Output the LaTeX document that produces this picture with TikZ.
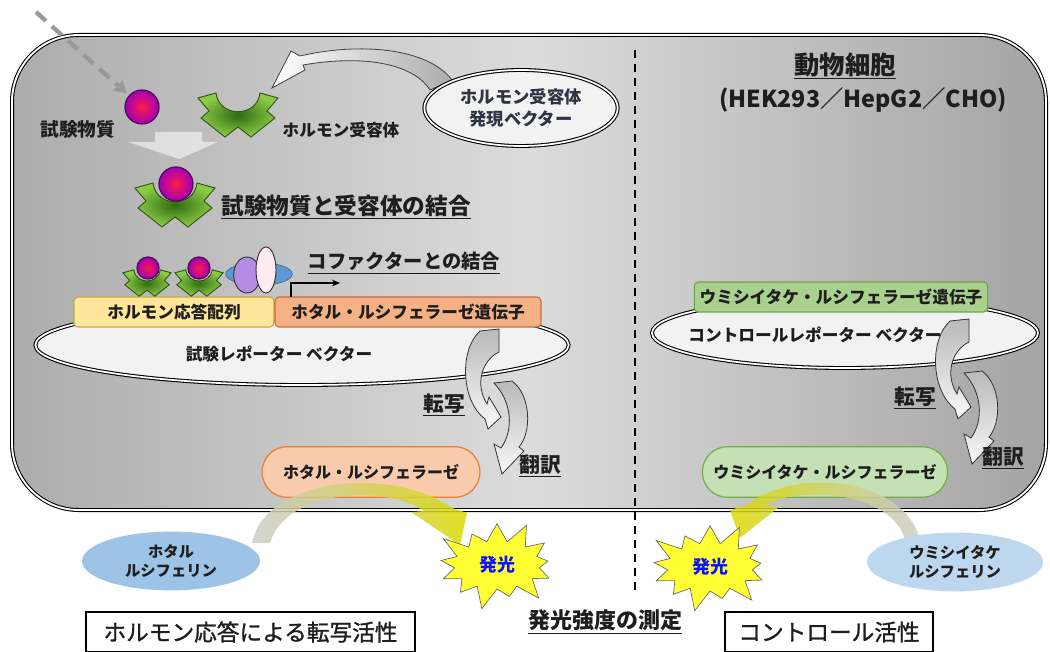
\documentclass[tikz,border=0pt]{standalone}
\usepackage{fontspec}
\setmainfont{Noto Sans CJK JP}
\newfontfamily\heavyjp{Noto Sans CJK JP}[FakeBold=1.2]
\usetikzlibrary{arrows.meta,shapes.geometric,shapes.symbols}

\definecolor{ink}{HTML}{1E1E1E}
\definecolor{navy}{HTML}{2F3444}
\definecolor{cellL}{HTML}{ACACAC}
\definecolor{cellM}{HTML}{DCDCDC}
\definecolor{cellR}{HTML}{A4A4A4}
\definecolor{vecbg}{HTML}{F2F2F2}
\definecolor{hreF}{HTML}{FFE699}
\definecolor{hreD}{HTML}{C9A640}
\definecolor{flucF}{HTML}{F4B183}
\definecolor{flucD}{HTML}{C8703A}
\definecolor{rlucF}{HTML}{A9D18E}
\definecolor{rlucD}{HTML}{6FA347}
\definecolor{fenzF}{HTML}{F8CBAD}
\definecolor{fenzD}{HTML}{ED7D31}
\definecolor{renzF}{HTML}{C5E0B4}
\definecolor{renzD}{HTML}{70AD47}
\definecolor{fsubF}{HTML}{9DC3E6}
\definecolor{rsubF}{HTML}{BDD7EE}
\definecolor{ligIn}{HTML}{FF1A4B}
\definecolor{ligOut}{HTML}{A000B4}
\definecolor{ligD}{HTML}{4A0A55}
\definecolor{recIn}{HTML}{2E6B12}
\definecolor{recOut}{HTML}{8CCB45}
\definecolor{recD}{HTML}{2F5617}
\definecolor{cofB}{HTML}{5B9BD5}
\definecolor{cofP}{HTML}{B48CE6}
\definecolor{cofW}{HTML}{FCEBF0}
\definecolor{glowY}{HTML}{D9D900}
\definecolor{flashY}{HTML}{FFFF33}
\definecolor{flashT}{HTML}{0A14FF}

\tikzset{
  lbl/.style={font=\bfseries\fontsize{12.5}{15}\selectfont,text=ink,inner sep=1pt},
  big/.style={font=\bfseries\fontsize{17}{20}\selectfont,text=ink,inner sep=1pt},
  proc/.style={font=\bfseries\fontsize{15.5}{18}\selectfont,text=ink,inner sep=1pt},
  cell/.style={rounded corners=50pt,left color=cellL,right color=cellR,middle color=cellM,
    draw=black,double=white,double distance=1.4pt,line width=0.8pt},
  vector/.style={ellipse,draw=black,double=white,double distance=1.3pt,line width=0.8pt,fill=vecbg},
  genebox/.style={rounded corners=3pt,minimum height=22.5pt,line width=0.8pt,
    font=\bfseries\fontsize{12.5}{15}\selectfont,text=ink},
  enzyme/.style={rounded corners=19pt,minimum height=38pt,line width=0.9pt,
    font=\bfseries\fontsize{12}{15}\selectfont,text=ink},
  substrate/.style={ellipse,align=center,font=\bfseries\fontsize{11.5}{14}\selectfont,text=ink},
  ligand/.style={circle,draw=ligD,line width=0.9pt,inner color=ligIn,outer color=ligOut,inner sep=0pt},
  flash/.style={starburst,starburst points=13,starburst point height=18pt,fill=flashY,
    draw=black!60,line width=0.5pt,minimum width=100pt,minimum height=72pt,inner sep=0pt,
    font=\bfseries\fontsize{13.5}{15}\selectfont,text=flashT},
  result/.style={draw=black,line width=1pt,minimum height=30pt,
    font=\heavyjp\fontsize{17}{20}\selectfont,text=ink},
  entry/.style={draw=gray!80,line width=3.2pt,dash pattern=on 10pt off 6pt,
    -{Triangle[length=9pt,width=10pt]}},
  feed/.style={draw=black!75,line width=0.6pt,left color=white,right color=gray!65},
  curl/.style={draw=black!80,line width=0.6pt,top color=gray!55,bottom color=gray!5},
  glowR/.style={opacity=0.85,left color=gray!40,right color=glowY},
  glowL/.style={opacity=0.85,left color=glowY,right color=gray!40},
  receptor/.pic={
    \path[draw=recD,line width=0.7pt,inner color=recIn,outer color=recOut]
      (-40,-17) -- (-22,-22) .. controls (-19,3) and (19,3) .. (22,-22) -- (40,-17)
      -- (29,-4) -- (37,3) -- (13,22) -- (0,12) -- (-13,22) -- (-37,3) -- (-29,-4) -- cycle;
  }
}

\begin{document}
\begin{tikzpicture}[x=0.75pt,y=-0.75pt]
  \useasboundingbox (0,0) rectangle (1050,652);

  % the cell and the divider
  \draw[cell] (12,35) rectangle (1046,510);
  \coordinate (divtop) at (635,50);
  \coordinate (divbot) at (635,590);
  \draw[black,line width=1.1pt,dash pattern=on 6pt off 4.5pt] (divtop) -- (divbot);

  % expression vector feeding the receptor
  \path[feed] (452,80) .. controls (428,48) and (360,42) .. (300,56) -- (291,51) -- (272,88)
    -- (305,70) -- (303,65) .. controls (360,55) and (412,62) .. (430,90) -- cycle;
  \node[vector,minimum width=145pt,minimum height=57pt,align=center,
    font=\bfseries\fontsize{13}{16}\selectfont,text=navy] (expvec) at (521,108)
    {ホルモン受容体\\発現ベクター};

  % test substance and receptor
  \coordinate (inlet) at (36,12);
  \node[ligand,minimum size=25.5pt] (ligA) at (142,107) {};
  \draw[entry,shorten >=2pt] (inlet) -- (ligA);
  \node[lbl,font=\bfseries\fontsize{14}{16}\selectfont] (ligAtxt) at (78,129) {試験物質};
  \pic at (238,115) {receptor};
  \node[lbl] (recAtxt) at (341,130) {ホルモン受容体};

  \fill[white,opacity=0.55] (155,132) -- (202,132) -- (202,142) -- (218,142) -- (179,159)
    -- (128,142) -- (155,142) -- cycle;

  % bound complex
  \pic at (175,205) {receptor};
  \node[ligand,minimum size=25.5pt] (ligB) at (176,184) {};
  \node[big] (bindtxt) at (346,207) {\underline{試験物質と受容体の結合}};

  % test reporter vector
  \node[vector,minimum width=400pt,minimum height=60pt] (tvec) at (302,345) {};
  \node[lbl] (tvectxt) at (279,354) {試験レポーター ベクター};
  \node[genebox,fill=hreF,draw=hreD,minimum width=150pt] (hre) at (174,312) {ホルモン応答配列};
  \node[genebox,fill=flucF,draw=flucD,minimum width=199.5pt] (fluc) at (408,312)
    {ホタル・ルシフェラーゼ遺伝子};

  % receptors on the response element, with the cofactor
  \pic[scale=0.6] at (147,283) {receptor};
  \node[ligand,minimum size=16.5pt] (ligC) at (148,268) {};
  \pic[scale=0.6] at (199,283) {receptor};
  \node[ligand,minimum size=16.5pt] (ligD) at (199,268) {};
  \node[ellipse,fill=cofB,draw=cofB!60!black,line width=0.4pt,minimum width=50pt,
    minimum height=17pt] (cofb) at (259,274) {};
  \node[ellipse,fill=cofP,draw=black!80,line width=0.7pt,minimum width=20pt,
    minimum height=27pt] (cofp) at (247,275) {};
  \node[ellipse,fill=cofW,draw=black!80,line width=0.7pt,minimum width=15pt,
    minimum height=34.5pt] (cofw) at (266,270) {};
  \node[lbl,font=\bfseries\fontsize{14.5}{17}\selectfont] (coftxt) at (404,263)
    {\underline{コファクターとの結合}};
  \coordinate (tss) at (291,297);
  \coordinate (tssend) at (340,283);
  \draw[black,line width=0.8pt,-{Stealth[length=6pt,width=5pt]}] (tss) |- (tssend);

  % transcription / translation, test side
  \path[curl] (494,383) -- (512,381) .. controls (531,395) and (532,432) .. (519,447)
    -- (524,451) -- (502,474) -- (494,444) -- (501,448)
    .. controls (514,430) and (512,402) .. (494,383) -- cycle;
  \path[curl] (480,331) -- (499,329) -- (499,352) .. controls (481,361) and (475,385) .. (487,404)
    -- (489,397) -- (501,417) -- (488,429) -- (485,419)
    .. controls (461,401) and (459,350) .. (480,331) -- cycle;
  \node[proc] (tx1) at (444,405) {\underline{転写}};
  \node[proc] (tl1) at (540,466) {\underline{翻訳}};

  % control side
  \node[big,font=\bfseries\fontsize{19}{22}\selectfont] (celltitle) at (845,66) {\underline{動物細胞}};
  \node[big,font=\bfseries\fontsize{17.5}{20}\selectfont] (lines) at (863,100) {(HEK293／HepG2／CHO)};
  \node[vector,minimum width=289.5pt,minimum height=52.5pt] (cvec) at (845,333) {};
  \node[lbl] (cvectxt) at (815,335) {コントロールレポーター ベクター};
  \node[genebox,fill=rlucF,draw=rlucD,minimum width=220pt] (rgene) at (841,297)
    {ウミシイタケ・ルシフェラーゼ遺伝子};
  \begin{scope}[shift={(470,-10)}]
    \path[curl] (494,383) -- (512,381) .. controls (531,395) and (532,432) .. (519,447)
      -- (524,451) -- (502,474) -- (494,444) -- (501,448)
      .. controls (514,430) and (512,402) .. (494,383) -- cycle;
    \path[curl] (480,331) -- (499,329) -- (499,352) .. controls (481,361) and (475,385) .. (487,404)
      -- (489,397) -- (501,417) -- (488,429) -- (485,419)
      .. controls (461,401) and (459,350) .. (480,331) -- cycle;
  \end{scope}
  \node[proc] (tx2) at (915,398) {\underline{転写}};
  \node[proc] (tl2) at (1003,458) {\underline{翻訳}};

  % enzymes, substrates and light
  \node[enzyme,fill=fenzF,draw=fenzD,minimum width=163.5pt] (fenz) at (371,472) {ホタル・ルシフェラーゼ};
  \node[enzyme,fill=renzF,draw=renzD,minimum width=184pt] (renz) at (825,472) {ウミシイタケ・ルシフェラーゼ};
  \path[glowR] (252,543) .. controls (265,478) and (390,465) .. (452,508) -- (467,513) -- (460,545)
    -- (411,512) -- (424,511) .. controls (385,484) and (285,490) .. (270,543) -- cycle;
  \path[glowL] (920,540) .. controls (905,478) and (795,466) .. (747,505) -- (730,510) -- (740,538)
    -- (779,507) -- (766,505) .. controls (800,485) and (893,492) .. (905,540) -- cycle;
  \node[substrate,fill=fsubF,minimum width=133.5pt,minimum height=40.5pt] (fsub) at (171,561)
    {ホタル\\ルシフェリン};
  \node[substrate,fill=rsubF,minimum width=132pt,minimum height=42pt] (rsub) at (955,562)
    {ウミシイタケ\\ルシフェリン};
  \node[flash] (flashA) at (497,565) {発光};
  \node[flash] (flashB) at (710,567) {発光};

  % readouts
  \node[result,minimum width=246.75pt] (resp) at (250.5,632) {ホルモン応答による転写活性};
  \node[big,font=\bfseries\fontsize{16.5}{19}\selectfont] (meas) at (605,622) {\underline{発光強度の測定}};
  \node[result,minimum width=156pt] (ctrl) at (829,632) {コントロール活性};
\end{tikzpicture}
\end{document}
